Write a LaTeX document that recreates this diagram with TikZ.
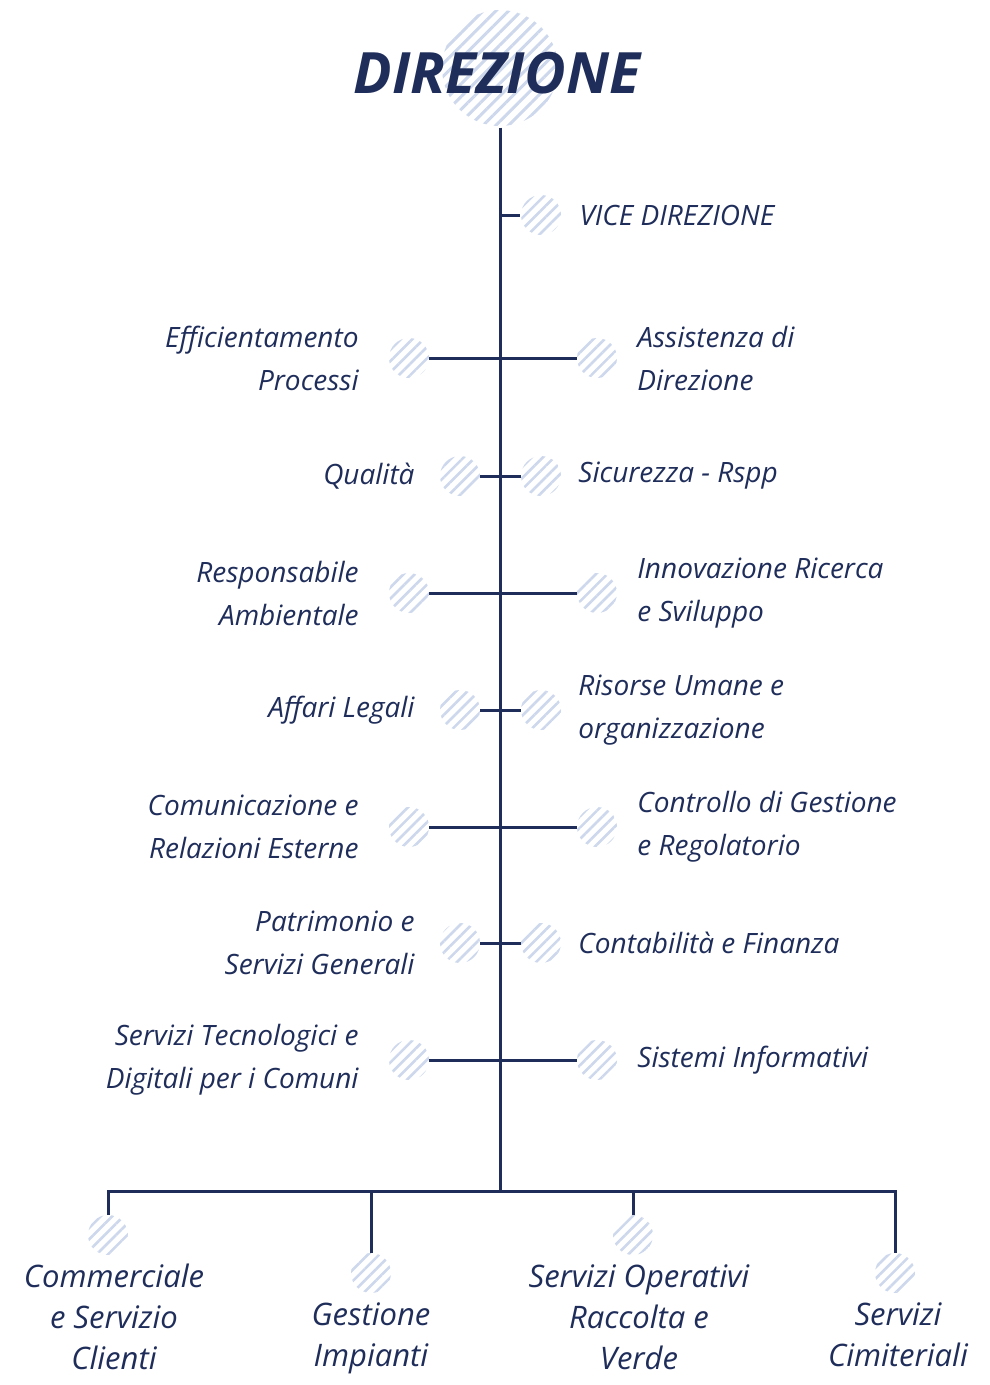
\documentclass[tikz,border=0pt]{standalone}
\usepackage{fontspec}
\setmainfont{Open Sans}
\usetikzlibrary{positioning,patterns.meta}
\definecolor{navy}{RGB}{31,45,90}
\definecolor{hatch}{RGB}{205,216,236}

\begin{document}
\begin{tikzpicture}[x=1pt, y=-1pt, node distance=26pt]
    \tikzstyle{dot} = [circle, minimum size=40pt, inner sep=0pt, pattern={Lines[angle=45,distance=8pt,line width=2.6pt]}, pattern color=hatch]
    \tikzstyle{bigdot} = [circle, minimum size=116pt, inner sep=0pt, pattern={Lines[angle=45,distance=9pt,line width=3pt]}, pattern color=hatch]
    \tikzstyle{lbl} = [inner sep=0pt, text=navy, font=\fontsize{28}{43}\selectfont\itshape]
    \tikzstyle{lleft} = [lbl, align=right]
    \tikzstyle{lright} = [lbl, align=left]
    \tikzstyle{lbottom} = [inner sep=0pt, text=navy, align=center, font=\fontsize{31}{41}\selectfont\itshape]
    \tikzstyle{link} = [navy, line width=3pt]

    \useasboundingbox (0,0) rectangle (990,1385);

    % Nodi
    \node[bigdot] (dir) at (500,68) {};
    \node[text=navy, font=\fontsize{57}{57}\selectfont\bfseries\itshape] (dirtxt) at (497,73) {DIREZIONE};
    \coordinate (hub) at (500,1191);

    \node[dot] (vice) at (541,215) {};
    \node[dot] (l1) at (409,358) {};
    \node[dot] (r1) at (597,358) {};
    \node[dot] (l2) at (460,476) {};
    \node[dot] (r2) at (541,476) {};
    \node[dot] (l3) at (409,593) {};
    \node[dot] (r3) at (597,593) {};
    \node[dot] (l4) at (460,710) {};
    \node[dot] (r4) at (541,710) {};
    \node[dot] (l5) at (409,827) {};
    \node[dot] (r5) at (597,827) {};
    \node[dot] (l6) at (460,943) {};
    \node[dot] (r6) at (541,943) {};
    \node[dot] (l7) at (409,1060) {};
    \node[dot] (r7) at (597,1060) {};

    \node[dot] (b1) at (108,1235) {};
    \node[dot] (b2) at (371,1273) {};
    \node[dot] (b3) at (633,1235) {};
    \node[dot] (b4) at (895,1273) {};

    % Etichette
    \node[lright, right=17pt of vice] (tvice) {VICE DIREZIONE};
    \node[lleft, left=30pt of l1] (tl1) {Efficientamento\\Processi};
    \node[lright, right=20pt of r1] (tr1) {Assistenza di\\Direzione};
    \node[lleft, left=25pt of l2] (tl2) {Qualità};
    \node[lright, right=17pt of r2] (tr2) {Sicurezza - Rspp};
    \node[lleft, left=30pt of l3] (tl3) {Responsabile\\Ambientale};
    \node[lright, right=20pt of r3] (tr3) {Innovazione Ricerca\\e Sviluppo};
    \node[lleft, left=25pt of l4] (tl4) {Affari Legali};
    \node[lright, right=17pt of r4] (tr4) {Risorse Umane e\\organizzazione};
    \node[lleft, left=30pt of l5] (tl5) {Comunicazione e\\Relazioni Esterne};
    \node[lright, right=20pt of r5] (tr5) {Controllo di Gestione\\e Regolatorio};
    \node[lleft, left=25pt of l6] (tl6) {Patrimonio e\\Servizi Generali};
    \node[lright, right=17pt of r6] (tr6) {Contabilità e Finanza};
    \node[lleft, left=30pt of l7] (tl7) {Servizi Tecnologici e\\Digitali per i Comuni};
    \node[lright, right=20pt of r7] (tr7) {Sistemi Informativi};

    \node[lbottom, below=9pt of b1, xshift=6pt] (tb1) {Commerciale\\e Servizio\\Clienti};
    \node[lbottom, below=9pt of b2] (tb2) {Gestione\\Impianti};
    \node[lbottom, below=9pt of b3, xshift=6pt] (tb3) {Servizi Operativi\\Raccolta e\\Verde};
    \node[lbottom, below=9pt of b4, xshift=3pt] (tb4) {Servizi\\Cimiteriali};

    % Linee
    \draw[link] (dir) -- (hub);
    \draw[link] (vice) -- (vice -| dir);
    \draw[link] (l1) -- (r1);
    \draw[link] (l2) -- (r2);
    \draw[link] (l3) -- (r3);
    \draw[link] (l4) -- (r4);
    \draw[link] (l5) -- (r5);
    \draw[link] (l6) -- (r6);
    \draw[link] (l7) -- (r7);
    \draw[link] (b1) |- (hub) -| (b4);
    \draw[link] (b2) -- (b2 |- hub);
    \draw[link] (b3) -- (b3 |- hub);
\end{tikzpicture}
\end{document}
